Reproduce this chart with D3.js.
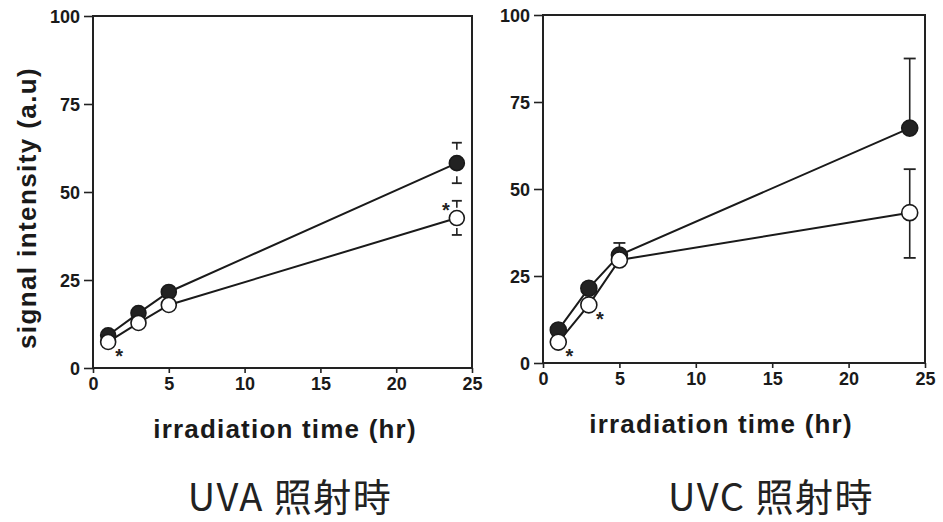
<!DOCTYPE html>
<html>
<head>
<meta charset="utf-8">
<script src="https://cdnjs.cloudflare.com/ajax/libs/d3/7.8.5/d3.min.js"></script>
<style>
  body { margin: 0; background: #fff; }
  svg { display: block; }
  .tick line, .domain { stroke: #222; stroke-width: 1.6; }
</style>
</head>
<body>
<div id="chart"></div>
<script>
// irradiation hours (same for both panels)
const hours = [1, 3, 5, 24];

// UVA panel
const uvaFilled = [9.3, 15.6, 21.6, 58.2];
const uvaOpen = [7.4, 12.8, 17.9, 42.6];
const uvaFilledErrUp = [0, 0, 0, 5.8];
const uvaFilledErrDown = [0, 0, 0, 5.7];
const uvaOpenErrUp = [0, 0, 0, 4.9];
const uvaOpenErrDown = [0, 0, 0, 4.8];
const uvaStars = [{ series: "open", i: 0, side: "br" }, { series: "open", i: 3, side: "tl" }];

// UVC panel
const uvcFilled = [9.5, 21.5, 31.0, 67.5];
const uvcOpen = [6.0, 16.7, 29.6, 43.2];
const uvcFilledErrUp = [0, 0, 3.5, 20.0];
const uvcFilledErrDown = [0, 0, 0, 0];
const uvcOpenErrUp = [0, 0, 0, 12.5];
const uvcOpenErrDown = [0, 0, 0, 13.0];
const uvcStars = [{ series: "open", i: 0, side: "br" }, { series: "open", i: 1, side: "br" }];

// ticks and labels
const xTicks = [0, 5, 10, 15, 20, 25];
const yTicks = [0, 25, 50, 75, 100];
const yLabel = "signal intensity (a.u)";
const xLabel = "irradiation time (hr)";
const titles = ["UVA 照射時", "UVC 照射時"];

const svg = d3.select("#chart").append("svg")
  .attr("width", 943)
  .attr("height", 522);

function styleTicks(a) {
  a.select(".domain").remove();
  a.selectAll(".tick text")
    .style("font-family", "Liberation Sans, Arial, sans-serif")
    .style("font-weight", "bold")
    .style("font-size", "18px")
    .attr("fill", "#1a1a1a");
}

function drawPanel(p) {
  const x = d3.scaleLinear().domain([0, 25]).range([p.left, p.right]);
  const y = d3.scaleLinear().domain([0, 100]).range([p.bottom, p.top]);
  const g = svg.append("g");

  // box
  g.append("rect")
    .attr("x", p.left).attr("y", p.top)
    .attr("width", p.right - p.left).attr("height", p.bottom - p.top)
    .attr("fill", "none").attr("stroke", "#222").attr("stroke-width", 2);

  g.append("g")
    .attr("transform", "translate(0," + p.bottom + ")")
    .call(d3.axisBottom(x).tickValues(xTicks).tickSize(5).tickPadding(4))
    .call(styleTicks);
  g.append("g")
    .attr("transform", "translate(" + p.left + ",0)")
    .call(d3.axisLeft(y).tickValues(yTicks).tickSize(9).tickPadding(4))
    .call(styleTicks)
    .selectAll("text").attr("dy", "0.36em");

  const series = [
    { name: "filled", vals: p.filled, up: p.filledUp, down: p.filledDown, fill: "#222" },
    { name: "open", vals: p.open, up: p.openUp, down: p.openDown, fill: "#fff" }
  ];

  const line = d3.line()
    .x((d, i) => x(hours[i]))
    .y(d => y(d));

  // error bars
  series.forEach(s => {
    s.vals.forEach((v, i) => {
      const cx = x(hours[i]);
      [[s.up[i], 1], [s.down[i], -1]].forEach(([e, dir]) => {
        if (!e) return;
        const yc = y(v + dir * e);
        const yStem = p.stem ? yc + dir * p.stem : y(v);
        g.append("line")
          .attr("x1", cx).attr("x2", cx).attr("y1", yc).attr("y2", yStem)
          .attr("stroke", "#222").attr("stroke-width", 1.6);
        g.append("line")
          .attr("x1", cx - p.cap).attr("x2", cx + p.cap).attr("y1", yc).attr("y2", yc)
          .attr("stroke", "#222").attr("stroke-width", 1.8);
      });
    });
  });

  // connecting lines
  series.forEach(s => {
    g.append("path")
      .datum(s.vals)
      .attr("d", line)
      .attr("fill", "none")
      .attr("stroke", "#1a1a1a")
      .attr("stroke-width", 2);
  });

  // markers
  series.forEach(s => {
    g.selectAll(null)
      .data(s.vals)
      .enter().append("circle")
      .attr("cx", (d, i) => x(hours[i]))
      .attr("cy", d => y(d))
      .attr("r", p.r)
      .attr("fill", s.fill)
      .attr("stroke", "#1a1a1a")
      .attr("stroke-width", 1.6);
  });

  // significance stars
  p.stars.forEach(st => {
    const s = series.find(d => d.name === st.series);
    const cx = x(hours[st.i]), cy = y(s.vals[st.i]);
    const dx = st.side === "br" ? 11 : -11;
    const dy = st.side === "br" ? 21 : -1;
    g.append("text")
      .attr("x", cx + dx).attr("y", cy + dy)
      .attr("text-anchor", "middle")
      .style("font-family", "Liberation Sans, Arial, sans-serif")
      .style("font-weight", "bold")
      .style("font-size", "20px")
      .attr("fill", "#222")
      .text("*");
  });

  // x label
  g.append("text")
    .attr("x", p.xLabelX).attr("y", p.bottom + 70)
    .attr("text-anchor", "middle")
    .style("font-family", "Liberation Sans, Arial, sans-serif")
    .style("font-weight", "bold")
    .style("font-size", "26px")
    .style("letter-spacing", "1.2px")
    .attr("fill", "#1a1a1a")
    .text(xLabel);

  // title
  g.append("text")
    .attr("x", p.titleX).attr("y", 511)
    .attr("text-anchor", "middle")
    .style("font-family", "Noto Sans CJK JP, Noto Sans, sans-serif")
    .style("font-size", "38px")
    .style("letter-spacing", "1.5px")
    .attr("fill", "#222")
    .text(p.title);
}

drawPanel({
  left: 93, right: 472, top: 16, bottom: 368, stem: 7, cap: 5, r: 7.5,
  filled: uvaFilled, open: uvaOpen,
  filledUp: uvaFilledErrUp, filledDown: uvaFilledErrDown,
  openUp: uvaOpenErrUp, openDown: uvaOpenErrDown,
  stars: uvaStars, xLabelX: 285, titleX: 290, title: titles[0]
});
drawPanel({
  left: 543, right: 925, top: 15, bottom: 363, stem: null, cap: 6, r: 8,
  filled: uvcFilled, open: uvcOpen,
  filledUp: uvcFilledErrUp, filledDown: uvcFilledErrDown,
  openUp: uvcOpenErrUp, openDown: uvcOpenErrDown,
  stars: uvcStars, xLabelX: 721, titleX: 771, title: titles[1]
});

// y axis label (left panel only)
svg.append("text")
  .attr("transform", "translate(36,208) rotate(-90)")
  .attr("text-anchor", "middle")
  .style("font-family", "Liberation Sans, Arial, sans-serif")
  .style("font-weight", "bold")
  .style("font-size", "26px")
  .style("letter-spacing", "1.4px")
  .attr("fill", "#1a1a1a")
  .text(yLabel);
</script>
</body>
</html>
